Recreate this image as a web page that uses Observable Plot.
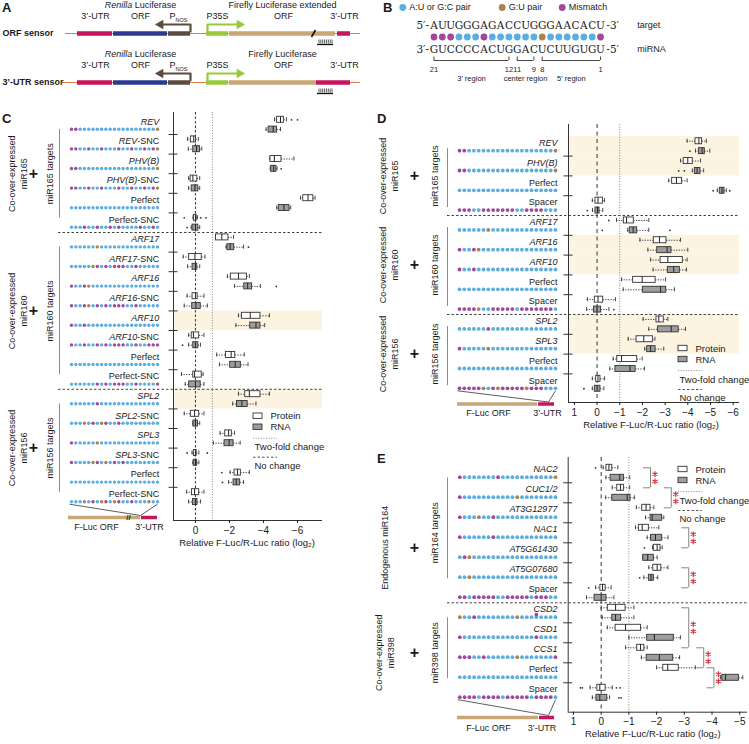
<!DOCTYPE html>
<html><head><meta charset="utf-8">
<script src="https://cdn.jsdelivr.net/npm/d3@7"></script>
<script src="https://cdn.jsdelivr.net/npm/@observablehq/plot@0.6"></script>
<style>
html,body{margin:0;padding:0;background:#fff;}
#wrap{position:relative;width:749px;height:744px;overflow:hidden;background:#fff;font-family:'Liberation Sans',Arial,sans-serif;color:#1a1a1a;}
#wrap svg{position:absolute;left:0;top:0;}
.plet{position:absolute;font-weight:bold;font-size:13px;line-height:13px;}
</style></head><body><div id="wrap"></div>
<script>
// ================= DATA =================
const pairColors = {b: "#5aaee2", g: "#a8834f", p: "#a2479b"};
const pairLegend = [{key: "b", label: "A:U or G:C pair"}, {key: "g", label: "G:U pair"}, {key: "p", label: "Mismatch"}];

// Panel A – sensor constructs (map units along the construct)
const aSensors = ["ORF sensor", "3’-UTR sensor"];
const aBackbone = [{s: 0, x1: 3, x2: 298}, {s: 1, x1: 0, x2: 298}];
const aParts = [
  {s: 0, x1: 15, x2: 50, color: "#c4165c"}, {s: 0, x1: 51, x2: 105, color: "#2b3990"},
  {s: 0, x1: 106, x2: 128, color: "#5b4c40"}, {s: 0, x1: 144, x2: 166, color: "#97c93d"},
  {s: 0, x1: 167, x2: 273, color: "#c9a676"}, {s: 0, x1: 275, x2: 288, color: "#c4165c"},
  {s: 1, x1: 15, x2: 50, color: "#c4165c"}, {s: 1, x1: 51, x2: 105, color: "#2b3990"},
  {s: 1, x1: 106, x2: 128, color: "#5b4c40"}, {s: 1, x1: 144, x2: 166, color: "#97c93d"},
  {s: 1, x1: 167, x2: 254, color: "#c9a676"}, {s: 1, x1: 254, x2: 288, color: "#c4165c"}
];
const aPromoters = [{at: 128, dir: -1, len: 33, color: "#5b4c40"}, {at: 145, dir: 1, len: 35, color: "#97c93d"}];
const aTitles = [
  {s: 0, x: 78, t: "Renilla Luciferase"}, {s: 0, x: 220, t: "Firefly Luciferase extended"},
  {s: 1, x: 78, t: "Renilla Luciferase"}, {s: 1, x: 220, t: "Firefly Luciferase"}
];
const aSubs = [{x: 33, t: "3’-UTR"}, {x: 78, t: "ORF"}, {x: 116, t: "PNOS"}, {x: 155, t: "P35S"}, {x: 221, t: "ORF"}, {x: 282, t: "3’-UTR"}];
const aSite = {x1: 255, x2: 271};
const aCut = 251;

// Panel B – example pairing
const targetSeq = "AUUGGGAGACCUGGGAACACU";
const mirnaSeq = "GUCCCCACUGGACUCUUGUGU";
const examplePairs = "pppbbbpbbbbbbgbbbbbbp";
const mirnaRegions = [{label: "3′ region", from: 21, to: 12}, {label: "center region", from: 11, to: 9}, {label: "5′ region", from: 8, to: 1}];

// Panel C
const cLabels = ["REV","REV-SNC","PHV(B)","PHV(B)-SNC","Perfect","Perfect-SNC","ARF17","ARF17-SNC","ARF16","ARF16-SNC","ARF10","ARF10-SNC","Perfect","Perfect-SNC","SPL2","SPL2-SNC","SPL3","SPL3-SNC","Perfect","Perfect-SNC"];
const cPairs = [
  "ppbbbbbbbbbbbbbbbbbbg","ppbbpbbpbbbpbbpbbpbpg","ppbbbbbbbbbbbbbbbbbbg","ppbbpbbpbbbpbbpbbpbpg",
  "bbbbbbbbbbbbbbbbbbbbb","bbbpbbpbbpbpbbbbpbbpb",
  "bbbbbbgbbbbbbbbbbbbbb","bbbbbgpbpbpppbbpbbbbb","pbbpgbbbbbbbbbbbbbbbb","pbbpgbpbpbpppbbpbbbbb",
  "pbbpbbbbbbbbbbbbbbbbb","pbbpbbpbpbpppbbpbbppp","bbbbbbbbbbbbbbbbbbbbb","bbbbbbpbpbpppbbpbbbbp",
  "bbbbbbpbbbbbbbbbbbbbb","bbbgbpbgpbbpbbbbbbbbb","pbbbbbgbbbbbbbbbbbbbb","pbbbbgpbgbpbpbbbbbbbb",
  "bbbbbbbbbbbbbbbbbbbbb","bbbgbpbgpbgpbbpbbbgbb"
];
const cGroups = [
  {name: "miR165 targets", treat: "Co-over-expressed\nmiR165", from: 0, to: 6},
  {name: "miR160 targets", treat: "Co-over-expressed\nmiR160", from: 6, to: 14},
  {name: "miR156 targets", treat: "Co-over-expressed\nmiR156", from: 14, to: 20}
];
const cShaded = [10, 14];
// [whisker, q, median, q, whisker, outliers] in log2 ratio
const cProtein = [
  [-4.65,-4.8,-5.0,-5.2,-5.35,[-5.65,-6.0]],[0.46,0.27,0.1,-0.03,-0.17],[-4.37,-4.41,-4.64,-5.06,-5.79],[0.4,0.28,0.15,-0.11,-0.25],
  [-6.18,-6.34,-6.62,-6.93,-7.03],[0.14,0.09,0.0,-0.07,-0.12,[0.66,-0.31,-0.62]],
  [-1.2,-1.21,-1.55,-1.94,-2.24],[0.72,0.37,0.03,-0.37,-0.56],[-1.88,-2.08,-2.53,-3.03,-3.17],[0.49,0.17,0.0,-0.13,-0.5],
  [-2.53,-2.73,-3.22,-3.82,-4.35],[0.4,0.22,0.12,-0.22,-0.5],[-1.25,-1.79,-2.1,-2.34,-2.87],[0.82,0.13,0.05,-0.37,-0.45],
  [-2.53,-2.93,-3.17,-3.82,-4.35],[0.66,0.27,0.05,-0.22,-0.5],[-1.45,-1.75,-1.95,-2.14,-2.3],[0.2,0.09,0.0,-0.07,-0.2,[0.49,-0.7]],
  [-2.04,-2.3,-2.47,-2.67,-3.17,[-1.55]],[0.52,0.2,0.05,-0.22,-0.5]
];
const cRNA = [
  [-4.15,-4.3,-4.57,-4.8,-5.0],[0.42,0.13,-0.07,-0.27,-0.37],[-4.4,-4.45,-4.6,-4.76,-4.8,[-5.04]],[0.4,0.22,0.03,-0.17,-0.25],
  [-4.78,-4.9,-5.2,-5.53,-5.6],[0.25,0.17,0.0,-0.17,-0.25,[0.49]],
  [-1.8,-1.88,-2.04,-2.28,-2.83,[-3.12]],[0.46,0.17,0.0,-0.11,-0.25],[-2.3,-2.87,-3.07,-3.33,-3.82,[-4.76]],[0.66,0.19,-0.03,-0.31,-0.7],
  [-2.38,-3.22,-3.56,-3.82,-4.07],[0.4,0.13,0.0,-0.17,-0.3,[0.76]],[-1.41,-2.04,-2.34,-2.67,-3.09],[0.6,0.37,0.0,-0.31,-0.5],
  [-2.19,-2.44,-2.73,-3.07,-3.56],[0.15,0.12,0.0,-0.15,-0.25],[-1.05,-1.71,-1.98,-2.24,-2.63],[0.15,0.1,0.0,-0.1,-0.2],
  [-1.95,-2.24,-2.4,-2.63,-2.83,[-1.59]],[0.4,0.15,0.0,-0.12,-0.3]
];

// Panel D
const dLabels = ["REV","PHV(B)","Perfect","Spacer","ARF17","ARF16","ARF10","Perfect","Spacer","SPL2","SPL3","Perfect","Spacer"];
const dPairs = [
  "ppbbbbbbbbbbbbbbbbbbg","ppbbbbbbbbbbbbbbbbbbg","bbbbbbbbbbbbbbbbbbbbb","pppbbpppppppbbppppbbb",
  "bbbbbbgbbbbbbbbbbbbbb","pbbpgbbbbbbbbbbbbbbbb","pbbpbbbbbbbbbbbbbbbbb","bbbbbbbbbbbbbbbbbbbbb","ppppgbbpppppbpppppppb",
  "bbbbbbpbbbbbbbbbbbbbb","pbbbbbgbbbbbbbbbbbbbb","bbbbbbbbbbbbbbbbbbbbb","pppppgbpgpppppgpppbbb"
];
const dGroups = [
  {name: "miR165 targets", treat: "Co-over-expressed\nmiR165", from: 0, to: 4},
  {name: "miR160 targets", treat: "Co-over-expressed\nmiR160", from: 4, to: 9},
  {name: "miR156 targets", treat: "Co-over-expressed\nmiR156", from: 9, to: 13}
];
const dShaded = [0, 1, 5, 6, 9, 10];
const dProtein = [
  [-3.97,-4.34,-4.49,-4.63,-4.82],[-3.68,-3.82,-4.0,-4.22,-4.56],[-3.16,-3.31,-3.5,-3.75,-3.97],[0.21,0.07,-0.04,-0.26,-0.33],
  [-0.86,-1.18,-1.3,-1.62,-2.28,[-0.52]],[-1.89,-2.5,-2.75,-3.06,-3.68],[-2.36,-2.8,-3.12,-3.78,-3.97],[-1.08,-1.59,-1.99,-2.58,-3.02],[0.43,0.1,-0.04,-0.27,-0.81],
  [-2.03,-2.62,-2.72,-2.94,-3.12],[-1.37,-1.74,-2.06,-2.46,-2.55],[-0.71,-0.89,-1.08,-1.77,-1.99],[0.21,0.04,-0.04,-0.15,-0.33]
];
const dRNA = [
  [-4.34,-4.49,-4.63,-4.75,-4.97,[-4.09]],[-4.2,-4.31,-4.41,-4.56,-4.7,[-3.6,-3.85]],[-5.3,-5.41,-5.51,-5.62,-5.7,[-5.12,-5.85]],[0.2,0.07,-0.02,-0.11,-0.25,[0.43]],
  [-1.35,-1.44,-1.59,-1.77,-2.28,[-0.23,-3.21]],[-2.24,-2.65,-3.09,-3.28,-4.0],[-2.47,-3.12,-3.38,-3.65,-3.94],[-1.15,-2.02,-2.8,-3.05,-3.41],[0.46,0.14,0.0,-0.18,-0.52,[-0.74]],
  [-2.28,-2.69,-3.27,-3.6,-3.9],[-2.1,-2.21,-2.36,-2.58,-2.94],[-0.56,-0.81,-1.45,-1.7,-2.09],[0.21,0.1,0.0,-0.15,-0.3,[0.58]]
];

// Panel E
const eLabels = ["NAC2","CUC1/2","AT3G12977","NAC1","AT5G61430","AT5G07680","Spacer","CSD2","CSD1","CCS1","Perfect","Spacer"];
const ePairs = [
  "pbbbbbbbpbbbbbbbbbbbg","pbbbbbbbbbbbgbbbbbbbb","pbbbgbbpbbbbbbbbbbbbb","pbbbbbbpbbbbbbbbbbbbb","bpgbbbbbbbbbbbbbbbbbb","bbgbbbbbbbbbbbbbbbbbb","ppbpppppbbpppppbpppbb",
  "gbbpbbbbbbbbgbbbbbbbb","pbbbbbbbbbbbbbbbpbbbb","pppbbpbbbbbbgbbbbbbbp","bbbbbbbbbbbbbbbbbbbbb","ppppbppppbpppppbppppb"
];
const eBulges = [{entry: 7, pos: 17, c: "p"}];
const eGroups = [
  {name: "miR164 targets", treat: "Endogenous miR164", from: 0, to: 7, shift: 15},
  {name: "miR398 targets", treat: "Co-over-expressed\nmiR398", from: 7, to: 12}
];
const eShaded = [];
const eProtein = [
  [-0.07,-0.19,-0.28,-0.4,-0.6,[0.2]],[-0.4,-0.58,-0.7,-0.82,-1.03],[-1.27,-1.48,-1.62,-1.78,-1.9],[-1.24,-1.36,-1.48,-1.72,-2.08],
  [-1.85,-1.9,-2.02,-2.14,-2.2,[-1.56]],[-1.72,-1.88,-2.02,-2.17,-2.41],[0.2,0.03,-0.05,-0.16,-0.36,[0.45]],
  [0.0,-0.24,-0.52,-0.88,-1.18],[-0.22,-0.52,-0.88,-1.44,-1.66],[-0.88,-1.3,-1.42,-1.56,-1.66],[-2.0,-2.24,-2.4,-2.8,-3.4],[0.4,0.14,0.05,-0.16,-0.4,[0.75,0.68,-0.55,-0.68]]
];
const eRNA = [
  [-0.17,-0.34,-0.67,-0.82,-1.03],[-0.16,-0.4,-0.94,-1.06,-1.2],[-1.6,-1.78,-1.84,-2.2,-2.26],[-1.66,-1.8,-1.96,-2.2,-2.41],
  [-1.5,-1.52,-1.68,-1.9,-2.02],[-1.54,-1.72,-1.8,-1.9,-2.04,[-1.39]],[0.53,0.24,0.0,-0.19,-0.46],
  [-0.04,-0.4,-0.52,-0.72,-1.18],[-1.0,-1.66,-1.92,-2.62,-2.86],[-1.45,-1.64,-2.1,-2.6,-2.83],[-4.3,-4.37,-4.49,-4.97,-5.11],[0.32,0.17,0.05,-0.22,-0.3,[-0.64,-0.72]]
];
// significance brackets (box slots, 0 = first protein box)
const eBrackets = [
  {from: 0, to: 2, x: -1.78}, {from: 2, to: 4, x: -2.53}, {from: 6, to: 8, x: -3.16}, {from: 10, to: 12, x: -3.16},
  {from: 14, to: 18, x: -3.16}, {from: 18, to: 20, x: -3.7}, {from: 20, to: 22, x: -4.07}
];

// ================= RENDERING =================
const W = 749, H = 744;
const FONT = "'Liberation Sans', Arial, sans-serif";
const wrap = document.getElementById("wrap");
const ITALIC = new Set(["REV","PHV(B)","ARF17","ARF16","ARF10","SPL2","SPL3","NAC2","CUC1/2","AT3G12977","NAC1","AT5G61430","AT5G07680","CSD2","CSD1","CCS1"]);
const SVGNS = "http://www.w3.org/2000/svg";

function richify(svg) {
  svg.querySelectorAll("text").forEach(t => {
    if (t.querySelector("tspan")) return;
    const s = t.textContent;
    let parts = null;
    const m = s.match(/^(.*?)(-SNC)?$/);
    if (ITALIC.has(m[1])) parts = [[m[1], "i"]].concat(m[2] ? [[m[2], ""]] : []);
    else if (s.startsWith("Renilla ")) parts = [["Renilla", "i"], [s.slice(7), ""]];
    else if (s === "PNOS") parts = [["P", ""], ["NOS", "sub"]];
    if (!parts) return;
    t.textContent = "";
    for (const [txt, st] of parts) {
      const ts = document.createElementNS(SVGNS, "tspan");
      ts.textContent = txt;
      if (st === "i") ts.setAttribute("font-style", "italic");
      if (st === "sub") { ts.setAttribute("font-size", "5.5"); ts.setAttribute("dy", "2.5"); }
      t.appendChild(ts);
    }
  });
}

function overlay({x0, x1, y0, y1, xDomain, yDomain, marks, xAxis = false}) {
  const svg = Plot.plot({
    width: W, height: H,
    marginLeft: x0, marginRight: W - x1, marginTop: y0, marginBottom: H - y1,
    x: xAxis ? {domain: xDomain} : {domain: xDomain, axis: null},
    y: {domain: yDomain, reverse: true, axis: null},
    color: {type: "identity"},
    style: {background: "none", overflow: "visible", fontFamily: FONT, fontSize: "9px", color: "#1a1a1a", maxWidth: "none"},
    marks
  });
  richify(svg);
  svg.style.position = "absolute"; svg.style.left = "0px"; svg.style.top = "0px";
  wrap.appendChild(svg);
  return svg;
}

// ---------- Panel A ----------
{
  const rowY = [33, 82];
  const lines = [];
  const heads = [];
  aSensors.forEach((_, s) => aPromoters.forEach((p, k) => {
    const y = rowY[s], tipX = p.at + p.dir * p.len;
    lines.push({z: s * 10 + k, x: p.at, y: y - 2, c: p.color}, {z: s * 10 + k, x: p.at, y: y - 9, c: p.color}, {z: s * 10 + k, x: tipX - p.dir * 4, y: y - 9, c: p.color});
    heads.push({x: tipX - p.dir * 3, y: y - 9, c: p.color, rot: p.dir * 90});
  }));
  const combs = aSensors.flatMap((_, s) => d3.range(8).map(i => ({s, x: aSite.x1 + 1.5 + i * (aSite.x2 - aSite.x1 - 3) / 7})));
  overlay({
    x0: 62, x1: 362, y0: 0, y1: H, xDomain: [0, 300], yDomain: [0, H],
    marks: [
      Plot.ruleY(aBackbone, {y: d => rowY[d.s], x1: "x1", x2: "x2", stroke: "#df7b4a", strokeWidth: 1}),
      Plot.ruleY(aParts, {y: d => rowY[d.s], x1: "x1", x2: "x2", stroke: "color", strokeWidth: 4.5}),
      Plot.line(lines, {x: "x", y: "y", z: "z", stroke: "c", strokeWidth: 2.2}),
      Plot.dot(heads, {x: "x", y: "y", fill: "c", symbol: "triangle", r: 3.6, rotate: "rot"}),
      Plot.link([0], {x1: () => aCut - 2, x2: () => aCut + 2, y1: () => rowY[0] + 3.5, y2: () => rowY[0] - 3.5, stroke: "#111", strokeWidth: 1.6}),
      Plot.ruleY(aSensors, {y: (d, s) => rowY[s] + 11, x1: () => aSite.x1, x2: () => aSite.x2, stroke: "#111", strokeWidth: 1.3}),
      Plot.ruleX(combs, {x: "x", y1: d => rowY[d.s] + 6.5, y2: d => rowY[d.s] + 10.5, stroke: "#111", strokeWidth: 0.7}),
      Plot.text(aSensors, {x: () => -60, y: (d, s) => rowY[s], text: d => d, textAnchor: "start", fontWeight: "bold", fontSize: 9}),
      Plot.text(aTitles, {x: "x", y: d => rowY[d.s] - 28, text: "t", fontSize: 9}),
      Plot.text(aSensors.flatMap((_, s) => aSubs.map(d => ({...d, s}))), {x: "x", y: d => rowY[d.s] - 17, text: "t", fontSize: 9})
    ]
  });
}

// ---------- Panel B ----------
{
  const legX = [-2.75, 9.19, 16.4];
  const nt = p => 22 - p; // miRNA position -> column
  const letters = [...targetSeq].map((c, i) => ({c, x: i + 1, y: 25})).concat([...mirnaSeq].map((c, i) => ({c, x: i + 1, y: 49})));
  const ends = mirnaRegions.flatMap(r => [{p: r.from}, {p: r.to}]);
  overlay({
    x0: 433.5, x1: 600, y0: 0, y1: H, xDomain: [1, 21], yDomain: [0, H],
    marks: [
      Plot.dot(pairLegend, {x: (d, i) => legX[i], y: () => 7, r: 3.4, fill: d => pairColors[d.key]}),
      Plot.text(pairLegend, {x: (d, i) => legX[i] + 0.78, y: () => 7, text: "label", textAnchor: "start", fontSize: 9}),
      Plot.text(letters, {x: "x", y: "y", text: "c", fontFamily: "DejaVu Serif", fontSize: 10.5}),
      Plot.text(["5′-", "3′-"], {x: () => 0.4, y: (d, i) => [25, 49][i], text: d => d, textAnchor: "end", fontFamily: "DejaVu Serif", fontSize: 10.5}),
      Plot.text(["-3′", "-5′"], {x: () => 21.7, y: (d, i) => [25, 49][i], text: d => d, textAnchor: "start", fontFamily: "DejaVu Serif", fontSize: 10.5}),
      Plot.text(["target", "miRNA"], {x: () => 25.4, y: (d, i) => [25, 49][i], text: d => d, textAnchor: "start", fontSize: 9}),
      Plot.dot([...examplePairs], {x: (d, i) => i + 1, y: () => 36.5, r: 3.4, fill: d => pairColors[d]}),
      Plot.ruleY(mirnaRegions, {y: () => 60, x1: d => nt(d.from), x2: d => nt(d.to), stroke: "#333", strokeWidth: 0.9}),
      Plot.ruleX(ends, {x: d => nt(d.p), y1: () => 56.5, y2: () => 60, stroke: "#333", strokeWidth: 0.9}),
      Plot.text(ends, {x: d => nt(d.p), y: () => 69.5, text: d => String(d.p), fontSize: 7.5}),
      Plot.text(mirnaRegions, {x: d => (nt(d.from) + nt(d.to)) / 2, y: () => 78, text: "label", fontSize: 7.5})
    ]
  });
}

// ---------- Box-plot panels ----------
function boxRows(prot, rna) {
  const rows = [];
  prot.forEach((v, i) => rows.push({slot: 2 * i + 0.5, kind: "Protein", v}));
  rna.forEach((v, i) => rows.push({slot: 2 * i + 1.5, kind: "RNA", v}));
  return rows.map(r => {
    const s = r.v.slice(0, 5).sort((a, b) => a - b);
    return {slot: r.slot, kind: r.kind, lo: s[0], q1: s[1], med: s[2], q3: s[3], hi: s[4], out: r.v[5] || []};
  });
}

function labelPanel(cfg) {
  const {labels, pairs, groups, top0, slot, fy0, fy1, dx0, dx1, lineX, targetsX, plusX, treatX, insetTop, insetBot, bar, r, extra = []} = cfg;
  const xAt = px => 1 + (px - dx0) / (dx1 - dx0) * 20;
  const yAt = py => (py - top0) / slot;
  const labOff = 6.8 / slot, dotOff = 14.4 / slot;
  const entries = labels.map((t, i) => ({t, i}));
  const dots = entries.flatMap(({i}) => [...pairs[i]].map((c, j) => ({x: j + 1, y: 2 * i + dotOff, c: pairColors[c]})));
  extra.forEach(e => dots.push({x: e.pos, y: 2 * e.entry + (dotOff + labOff) / 2 + 1.2 / slot, c: pairColors[e.c]}));
  const lastY = 2 * (labels.length - 1) + dotOff + 2.5 / slot;
  const barY = yAt(bar.y);
  const gMid = g => g.from + g.to + (g.shift || 0) / slot;
  const marks = [
    Plot.dot(dots, {x: "x", y: "y", r, fill: "c"}),
    Plot.text(entries, {x: () => 21, y: d => 2 * d.i + labOff, text: "t", textAnchor: "end", dx: r, fontSize: 9}),
    Plot.ruleX(groups, {x: () => xAt(lineX), y1: g => 2 * g.from + insetTop / slot, y2: g => 2 * g.to - insetBot / slot, stroke: "#8c8c8c", strokeWidth: 1}),
    Plot.text(groups, {x: () => xAt(targetsX), y: g => g.from + g.to, text: "name", rotate: -90, fontSize: 9}),
    Plot.text(groups, {x: () => xAt(plusX), y: gMid, text: () => "+", fontWeight: "bold", fontSize: 16}),
    Plot.text(groups, {x: () => xAt(treatX), y: gMid, text: "treat", rotate: -90, fontSize: 9, lineHeight: 1.3}),
    Plot.link([0, 1], {x1: i => xAt([dx0 - 2, dx1][i]), y1: () => lastY, x2: () => xAt(bar.conv), y2: () => yAt(bar.y - 2), stroke: "#333", strokeWidth: 0.8}),
    Plot.ruleY([barY], {x1: () => xAt(bar.x0), x2: () => xAt(bar.xj), stroke: "#c9a676", strokeWidth: 3.5}),
    Plot.ruleY([barY], {x1: () => xAt(bar.xj + 1), x2: () => xAt(bar.x1), stroke: "#c4165c", strokeWidth: 3.5}),
    Plot.text(["F-Luc ORF", "3’-UTR"], {x: (d, i) => xAt([bar.t1, bar.t2][i]), y: () => yAt(bar.ty), text: d => d, fontSize: 9})
  ];
  if (bar.cut) marks.push(Plot.text(["//"], {x: () => xAt(bar.cut), y: () => barY, text: d => d, fontSize: 8, fontWeight: "bold", fill: "#222"}));
  overlay({x0: dx0, x1: dx1, y0: fy0, y1: fy1, xDomain: [1, 21], yDomain: [yAt(fy0), yAt(fy1)], marks});
}

function legendMarks(xAt, yAt, lx, ly) {
  const boxes = [{t: "Protein", f: "#ffffff", o: 0}, {t: "RNA", f: "#9d9d9d", o: 11}];
  return [
    Plot.rect(boxes, {x1: () => xAt(lx), x2: () => xAt(lx + 9), y1: d => yAt(ly + d.o - 2.7), y2: d => yAt(ly + d.o + 2.7), fill: "f", stroke: "#333", strokeWidth: 0.9}),
    Plot.text(boxes, {x: () => xAt(lx + 17), y: d => yAt(ly + d.o), text: "t", textAnchor: "start", fontSize: 9.5}),
    Plot.ruleY([yAt(ly + 22)], {x1: () => xAt(lx), x2: () => xAt(lx + 24), stroke: "#888", strokeDasharray: "1,1.6"}),
    Plot.text(["Two-fold change"], {x: () => xAt(lx + 1), y: () => yAt(ly + 31), text: d => d, textAnchor: "start", fontSize: 9.5}),
    Plot.ruleY([yAt(ly + 41)], {x1: () => xAt(lx), x2: () => xAt(lx + 24), stroke: "#555", strokeDasharray: "2.5,2"}),
    Plot.text(["No change"], {x: () => xAt(lx + 1), y: () => yAt(ly + 49.5), text: d => d, textAnchor: "start", fontSize: 9.5})
  ];
}

function boxPanel(cfg) {
  const {prot, rna, top0, slot, fx0, fx1, fy0, fy1, xDomain, ticks, shaded, seps, n, sepX0, legend, titleDx = 0, titleDy = 25, zeroDash, brackets = []} = cfg;
  const xAt = px => xDomain[0] + (px - fx0) / (fx1 - fx0) * (xDomain[1] - xDomain[0]);
  const yAt = py => (py - top0) / slot;
  const rows = boxRows(prot, rna);
  const bh = 3 / slot, cap = 2 / slot;
  const outs = rows.flatMap(rw => rw.out.map(v => ({x: v, y: rw.slot})));
  const bounds = d3.range(1, n).filter(k => !seps.includes(k)).map(k => 2 * k);
  const fmt = d => d < 0 ? "\u2212" + (-d) : String(d);
  const unitPx = (fx1 - fx0) / Math.abs(xDomain[1] - xDomain[0]);
  const stars = brackets.flatMap(b => [-3.6, 3.6].map(o => ({x: b.x - 4.5 / unitPx, y: (b.from + b.to) / 2 + 0.5 + o / slot})));
  const marks = [
    Plot.rect(shaded, {x1: () => xDomain[0], x2: () => xDomain[1], y1: k => 2 * k, y2: k => 2 * k + 2, fill: () => "#fcf3e1"}),
    Plot.ruleX([0], {stroke: "#333", strokeDasharray: zeroDash, strokeWidth: 1}),
    Plot.ruleX([-1], {stroke: "#888", strokeDasharray: "1,1.6", strokeWidth: 1}),
    Plot.ruleY(seps.map(k => 2 * k), {x1: () => xAt(sepX0), x2: () => xDomain[1], stroke: "#444", strokeDasharray: "2.5,2"}),
    Plot.ruleY(bounds, {x1: () => xAt(fx0 - 4.5), x2: () => xAt(fx0 + 4.5), stroke: "#333"}),
    Plot.ruleX([xDomain[0]], {stroke: "#333"}),
    Plot.ruleY([yAt(fy1)], {stroke: "#333"}),
    Plot.ruleY(rows, {y: "slot", x1: "hi", x2: "q3", stroke: "#333", strokeDasharray: "1.3,1.3", strokeWidth: 0.9}),
    Plot.ruleY(rows, {y: "slot", x1: "q1", x2: "lo", stroke: "#333", strokeDasharray: "1.3,1.3", strokeWidth: 0.9}),
    Plot.ruleX(rows, {x: "lo", y1: d => d.slot - cap, y2: d => d.slot + cap, stroke: "#333", strokeWidth: 0.9}),
    Plot.ruleX(rows, {x: "hi", y1: d => d.slot - cap, y2: d => d.slot + cap, stroke: "#333", strokeWidth: 0.9}),
    Plot.rect(rows, {x1: "q1", x2: "q3", y1: d => d.slot - bh, y2: d => d.slot + bh, fill: d => d.kind === "RNA" ? "#9d9d9d" : "#ffffff", stroke: "#333", strokeWidth: 0.9}),
    Plot.ruleX(rows, {x: "med", y1: d => d.slot - bh, y2: d => d.slot + bh, stroke: "#222", strokeWidth: 1}),
    Plot.dot(outs, {x: "x", y: "y", r: 0.9, fill: "#333"}),
    Plot.ruleX(brackets, {x: "x", y1: d => d.from + 0.5, y2: d => d.to + 0.5, stroke: "#777", strokeWidth: 0.9}),
    Plot.ruleY(brackets.flatMap(b => [{x: b.x, y: b.from + 0.5}, {x: b.x, y: b.to + 0.5}]), {y: "y", x1: "x", x2: d => d.x + 7 / unitPx, stroke: "#777", strokeWidth: 0.9}),
    Plot.dot(stars, {x: "x", y: "y", symbol: "asterisk", r: 2.7, stroke: "#d42b32", strokeWidth: 1.1}),
    Plot.axisX({ticks, tickFormat: fmt, tickSize: 3, tickPadding: 3, fontSize: 10, label: null}),
    Plot.text(["Relative F-Luc/R-Luc ratio (log\u2082)"], {frameAnchor: "bottom", dy: titleDy, dx: titleDx, text: d => d, fontSize: 9.5}),
    ...legendMarks(xAt, yAt, legend[0], legend[1])
  ];
  overlay({x0: fx0, x1: fx1, y0: fy0, y1: fy1, xDomain, yDomain: [yAt(fy0), yAt(fy1)], marks, xAxis: true});
}

// Panel C
labelPanel({labels: cLabels, pairs: cPairs, groups: cGroups, top0: 114.4, slot: 9.8, fy0: 112, fy1: 520, dx0: 71, dx1: 157, r: 1.7,
  lineX: 59, targetsX: 50, plusX: 33, treatX: 17, insetTop: 14.5, insetBot: 14.5,
  bar: {y: 517, x0: 68, xj: 140, x1: 157, conv: 140, t1: 96, t2: 149, ty: 527, cut: 128}});
boxPanel({prot: cProtein, rna: cRNA, top0: 114.4, slot: 9.8, fx0: 173, fx1: 322, fy0: 112, fy1: 520, xDomain: [1.29, -7.47],
  ticks: [0, -2, -4, -6], shaded: cShaded, seps: [6, 14], n: 20, sepX0: 58, legend: [253, 415.7], titleDx: -1, zeroDash: "2.5,2"});

// Panel D
labelPanel({labels: dLabels, pairs: dPairs, groups: dGroups, top0: 135.8, slot: 9.9, fy0: 124, fy1: 402, dx0: 459, dx1: 555, r: 1.9,
  lineX: 447, targetsX: 435, plusX: 414, treatX: 388, insetTop: 12, insetBot: 8,
  bar: {y: 403.5, x0: 457, xj: 537, x1: 554, conv: 548, t1: 488, t2: 547, ty: 413}});
boxPanel({prot: dProtein, rna: dRNA, top0: 135.8, slot: 9.9, fx0: 568, fx1: 739, fy0: 124, fy1: 402, xDomain: [1.26, -6.28],
  ticks: [1, 0, -1, -2, -3, -4, -5, -6], shaded: dShaded, seps: [4, 9], n: 13, sepX0: 447, legend: [678, 348], titleDx: -3, zeroDash: "4,3.5"});

// Panel E
labelPanel({labels: eLabels, pairs: ePairs, groups: eGroups, top0: 462.3, slot: 10, fy0: 457, fy1: 711.7, dx0: 459.3, dx1: 555, r: 1.9,
  lineX: 447, targetsX: 435, plusX: 414, treatX: 384, insetTop: 15, insetBot: 24, extra: eBulges,
  bar: {y: 717, x0: 457, xj: 538, x1: 554, conv: 548, t1: 488, t2: 541.5, ty: 728}});
boxPanel({prot: eProtein, rna: eRNA, top0: 462.3, slot: 10, fx0: 567.7, fx1: 747, fy0: 457, fy1: 711.7, xDomain: [1.19, -5.28],
  ticks: [1, 0, -1, -2, -3, -4, -5], shaded: eShaded, seps: [7], n: 12, sepX0: 447, legend: [678, 469], brackets: eBrackets, titleDx: -5, zeroDash: "4,3.5"});

// panel letters
[["A", 2, 1], ["B", 383, 1], ["C", 2, 112], ["D", 377, 112], ["E", 377, 452]].forEach(([t, x, y]) => {
  const d = document.createElement("div");
  d.className = "plet"; d.textContent = t; d.style.left = x + "px"; d.style.top = y + "px";
  wrap.appendChild(d);
});
</script></body></html>
